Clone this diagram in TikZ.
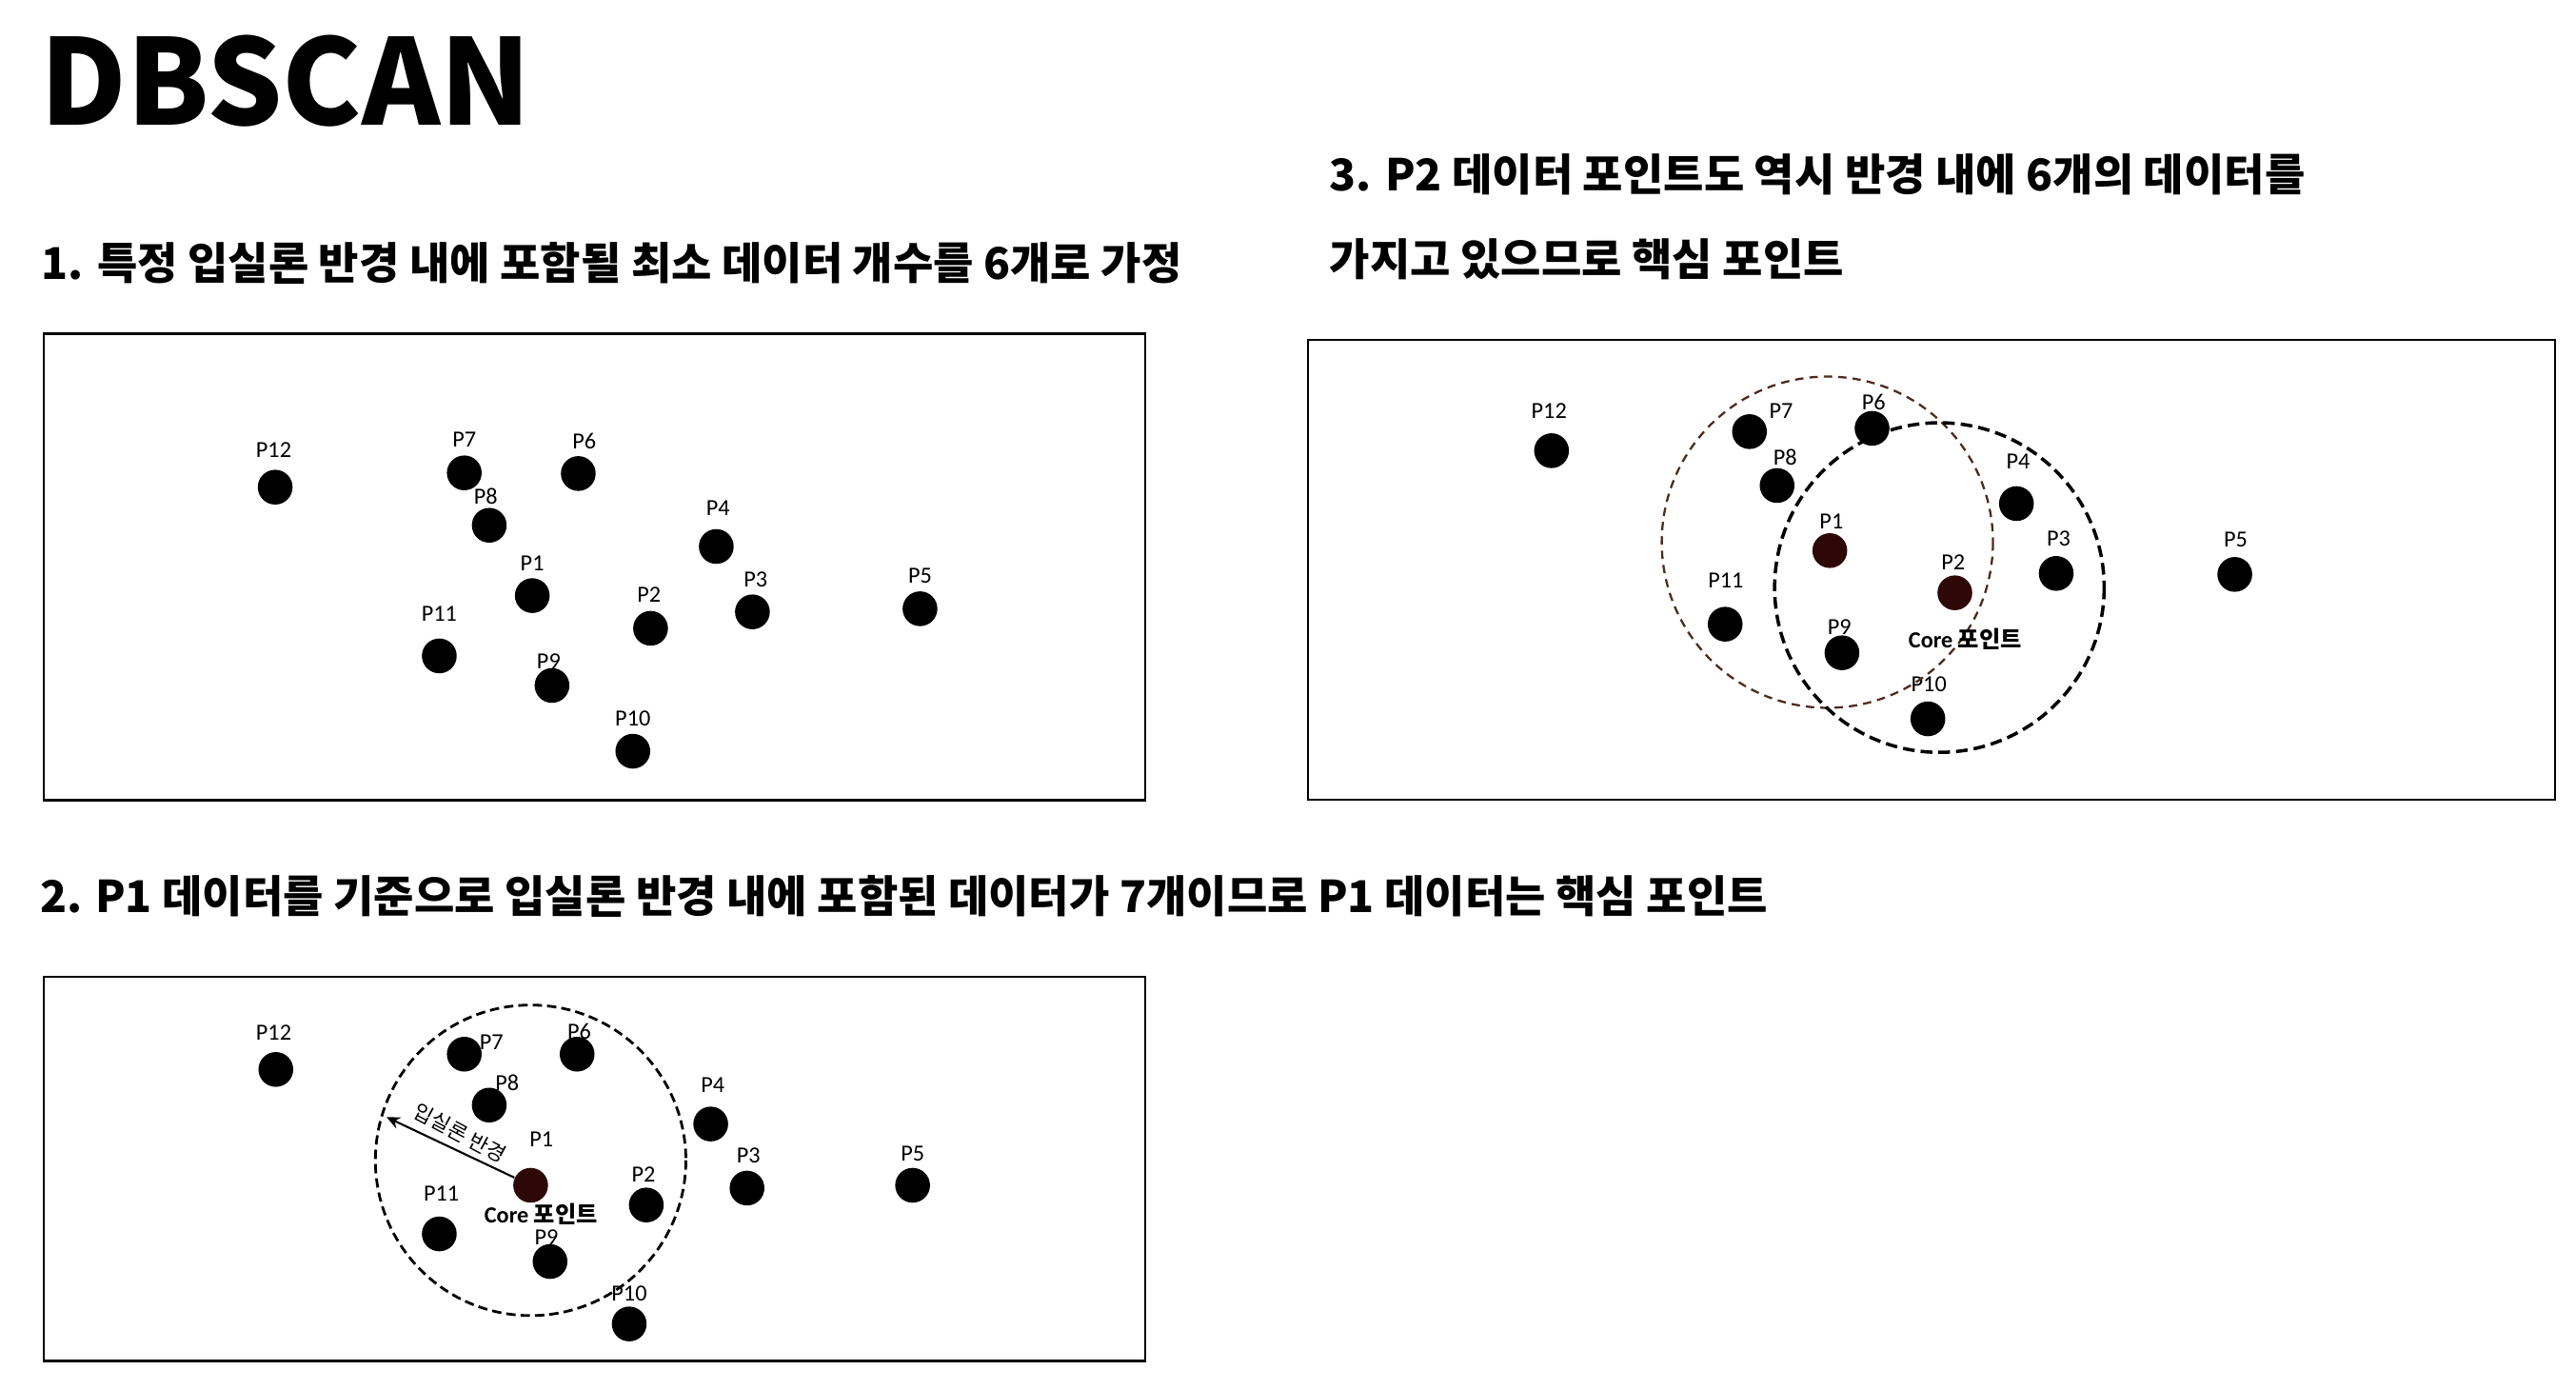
\documentclass[tikz,border=0pt]{standalone}
\usepackage{fontspec}
\setmainfont{Carlito}
\newfontfamily\krfont{Noto Sans CJK KR}
\usetikzlibrary{arrows.meta}

\definecolor{corebrown}{HTML}{2E0807}
\definecolor{ringbrown}{HTML}{4E2A1C}

\begin{document}
\begin{tikzpicture}[x=0.017258cm, y=-0.017258cm,
  datadot/.style={circle, fill=#1, inner sep=0pt, minimum size=10.4pt},
  datadot/.default=black,
  ptlabel/.style={inner sep=0pt, font=\fontsize{6.9}{8}\selectfont},
  corelabel/.style={inner sep=0pt, font=\fontsize{6.9}{8}\selectfont\bfseries},
  panel/.style={draw, line width=0.7pt},
  heading/.style={anchor=west, inner sep=0pt, font=\krfont\bfseries\fontsize{13.1}{16}\selectfont},
  epsring/.style={dashed, line width=0.8pt, dash pattern=on 2.8pt off 1.5pt},
  radarrow/.style={-{Stealth[length=4pt, width=3.6pt]}, line width=0.6pt}]

  % bounding box = reference page
  \useasboundingbox (0,0) rectangle (1568,846);

  % =======================================================
  % TITLE AND HEADINGS
  % =======================================================
  \node[anchor=base west, inner sep=0pt, font=\krfont\bfseries\fontsize{35.5}{40}\selectfont] (title) at (24,76) {DBSCAN};

  \node[heading] (head1) at (25,160) {1. 특정 입실론 반경 내에 포함될 최소 데이터 개수를 6개로 가정};
  \node[heading] (head2) at (24,545.6) {2. P1 데이터를 기준으로 입실론 반경 내에 포함된 데이터가 7개이므로 P1 데이터는 핵심 포인트};
  \node[heading] (head3a) at (809,106) {3. P2 데이터 포인트도 역시 반경 내에 6개의 데이터를};
  \node[heading] (head3b) at (809,158) {가지고 있으므로 핵심 포인트};

  % =======================================================
  % 1. Points only
  % =======================================================
  \draw[panel] (26.5,203) rectangle (697,487);
  \foreach \n/\x/\y/\lx/\ly/\clr in {
      1/324/362.5/324/343/black, 2/396/382.4/395/362/black,
      3/458/372.4/460/352.5/black, 4/436/332.6/437/309/black,
      5/560/370.5/560/350.6/black, 6/352/288.2/355.6/268.5/black,
      7/282.6/287.8/282.6/267.5/black, 8/297.8/319.7/295.7/302.3/black,
      9/336/417.2/334/402.3/black, 10/385.2/457.2/385.2/437.1/black,
      11/267.4/399.2/267.4/373.7/black, 12/167.5/296.5/166.6/273.9/black} {
    \node[datadot=\clr] (s1p\n) at (\x,\y) {};
    \node[ptlabel] (s1l\n) at (\lx,\ly) {P\n};
  }

  % =======================================================
  % 2. Epsilon radius around P1
  % =======================================================
  \draw[panel] (26.5,594.5) rectangle (697,828.2);
  \foreach \n/\x/\y/\lx/\ly/\clr in {
      1/323/721.4/329.6/693.4/corebrown, 2/393.4/733.4/391.7/714.6/black,
      3/454.7/723.1/455.6/703/black, 4/432.6/684.1/433.9/660.6/black,
      5/555.5/721.4/555.5/702.1/black, 6/351.3/641.6/352.6/627.7/black,
      7/282.6/641.6/299.2/634.5/black, 8/297.8/672.6/308.7/659/black,
      9/334.8/767.8/332.6/753.3/black, 10/383/805.8/383/787.1/black,
      11/267.4/751/268.7/726.2/black, 12/167.9/650.9/166.6/628.7/black} {
    \node[datadot=\clr] (s2p\n) at (\x,\y) {};
    \node[ptlabel] (s2l\n) at (\lx,\ly) {P\n};
  }
  \draw[epsring] (323,706.2) circle[radius=94.5];
  \coordinate (s2tip) at (235.3,679.9);
  \draw[radarrow] (s2p1) -- (s2tip);
  \node[inner sep=0pt, rotate=-28, font=\krfont\fontsize{6.2}{7}\selectfont] (s2eps) at (280,689.5) {입실론 반경};
  \node[corelabel] (s2core) at (329.3,738.8) {Core {\krfont 포인트}};

  % =======================================================
  % 3. Epsilon radius around P2
  % =======================================================
  \draw[panel] (796.3,207) rectangle (1555.2,486.7);
  \foreach \n/\x/\y/\lx/\ly/\clr in {
      1/1113.8/335.1/1114.8/317.1/corebrown, 2/1189.9/360.8/1188.9/342.3/corebrown,
      3/1251.6/349/1253.1/328/black, 4/1227.4/306.5/1228.4/281/black,
      5/1360.3/349.6/1360.8/328.7/black, 6/1139.5/260.7/1140.5/244.9/black,
      7/1064.9/262.7/1084.2/250.1/black, 8/1081.7/295.5/1086.6/278.5/black,
      9/1121.2/397.3/1119.7/381.9/black, 10/1173.5/437.5/1174.1/416.2/black,
      11/1050.1/379.9/1050.5/353.5/black, 12/944.4/274.3/942.9/250.1/black} {
    \node[datadot=\clr] (s3p\n) at (\x,\y) {};
    \node[ptlabel] (s3l\n) at (\lx,\ly) {P\n};
  }
  \draw[epsring, draw=ringbrown, line width=0.65pt, dash pattern=on 2.5pt off 1.8pt] (1112.3,330) circle[radius=100.8];
  \draw[epsring, line width=1pt, dash pattern=on 3.5pt off 1.8pt] (1180.5,357.6) circle[radius=100.3];
  \node[corelabel] (s3core) at (1196.2,389.2) {Core {\krfont 포인트}};

\end{tikzpicture}
\end{document}
